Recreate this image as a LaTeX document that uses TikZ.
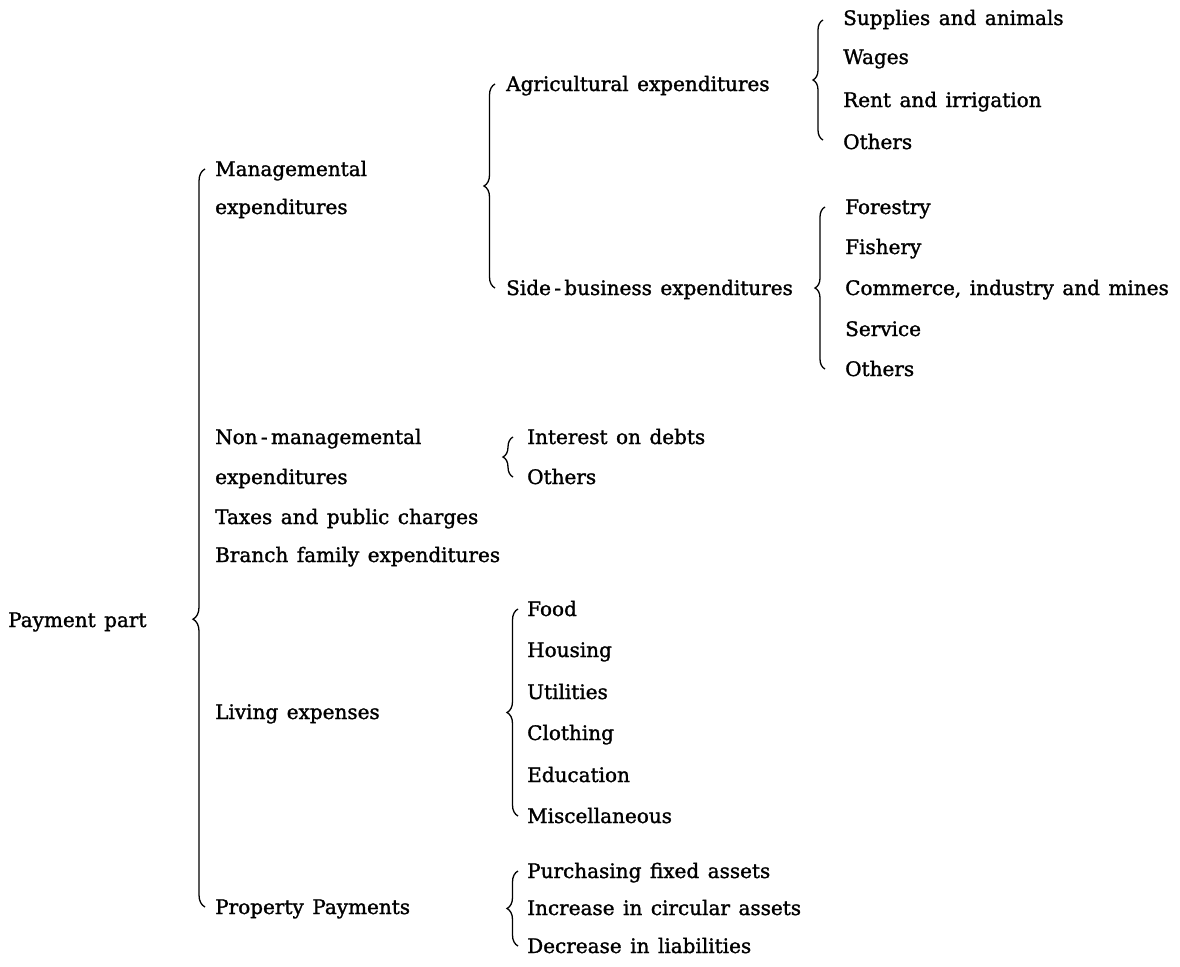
\documentclass[tikz,border=0pt]{standalone}
\usepackage{fontspec}
\setmainfont{DejaVu Serif}[FakeBold=1.4]
\usepackage{tikz}
\usetikzlibrary{decorations.pathreplacing}
\newcommand\widespace{\spaceskip 8.5pt plus 1pt minus 1pt\relax}
\tikzstyle{item} = [anchor=base west, inner sep=0pt,
	font=\fontsize{20}{24}\selectfont\widespace]
\tikzstyle{bracket} = [decorate, line width=1.3pt, decoration={brace, amplitude=11pt}]

\begin{document}
\begin{tikzpicture}[x=1pt, y=-1pt]
\useasboundingbox (0,0) rectangle (1180,966);
\node [item] at (8,627) (payment) {Payment part};
% first level
\node [item] at (215,176) (mgmt) {Managemental};
\node [item] at (215,214) (mgmt_b) {expenditures};
\node [item] at (215,444) (nonmgmt) {Non\,-\,managemental};
\node [item] at (215,484) (nonmgmt_b) {expenditures};
\node [item] at (215,524) (taxes) {Taxes and public charges};
\node [item] at (215,562) (branch) {Branch family expenditures};
\node [item] at (215,719) (living) {Living expenses};
\node [item] at (215,914) (property) {Property Payments};
% managemental
\node [item] at (506,91) (agri) {Agricultural expenditures};
\node [item] at (506,295) (side) {Side\,-\,business expenditures};
\node [item] at (843,25) (supplies) {Supplies and animals};
\node [item] at (843,64) (wages) {Wages};
\node [item] at (843,107) (rent) {Rent and irrigation};
\node [item] at (843,149) (agri_others) {Others};
\node [item] at (845,214) (forestry) {Forestry};
\node [item] at (845,254) (fishery) {Fishery};
\node [item] at (845,295) (commerce) {Commerce, industry and mines};
\node [item] at (845,336) (service) {Service};
\node [item] at (845,376) (side_others) {Others};
% non-managemental
\node [item] at (527,444) (interest) {Interest on debts};
\node [item] at (527,484) (nonmgmt_others) {Others};
% living
\node [item] at (527,616) (food) {Food};
\node [item] at (527,657) (housing) {Housing};
\node [item] at (527,699) (utilities) {Utilities};
\node [item] at (527,740) (clothing) {Clothing};
\node [item] at (527,782) (education) {Education};
\node [item] at (527,823) (misc) {Miscellaneous};
% property
\node [item] at (527,878) (purchasing) {Purchasing fixed assets};
\node [item] at (527,915) (increase) {Increase in circular assets};
\node [item] at (527,953) (decrease) {Decrease in liabilities};
% braces
\draw [bracket, decoration={amplitude=12pt, aspect=0.39}]
	([xshift=-10pt, yshift=7pt]property.base west)
	-- ([xshift=-10pt, yshift=7pt]mgmt.base west);
\draw [bracket] ([xshift=-11pt, yshift=7pt]side.base west)
	-- ([xshift=-11pt, yshift=7pt]agri.base west);
\draw [bracket, decoration={amplitude=10pt}]
	([xshift=-20pt, yshift=9pt]agri_others.base west)
	-- ([xshift=-20pt, yshift=5pt]supplies.base west);
\draw [bracket, decoration={amplitude=10pt}]
	([xshift=-20pt, yshift=7pt]side_others.base west)
	-- ([xshift=-20pt, yshift=7pt]forestry.base west);
\draw [bracket, decoration={amplitude=10pt}]
	([xshift=-14pt, yshift=7pt]nonmgmt_others.base west)
	-- ([xshift=-14pt, yshift=7pt]interest.base west);
\draw [bracket] ([xshift=-9pt, yshift=7pt]misc.base west)
	-- ([xshift=-9pt, yshift=7pt]food.base west);
\draw [bracket] ([xshift=-9pt, yshift=7pt]decrease.base west)
	-- ([xshift=-9pt, yshift=7pt]purchasing.base west);
\end{tikzpicture}
\end{document}
